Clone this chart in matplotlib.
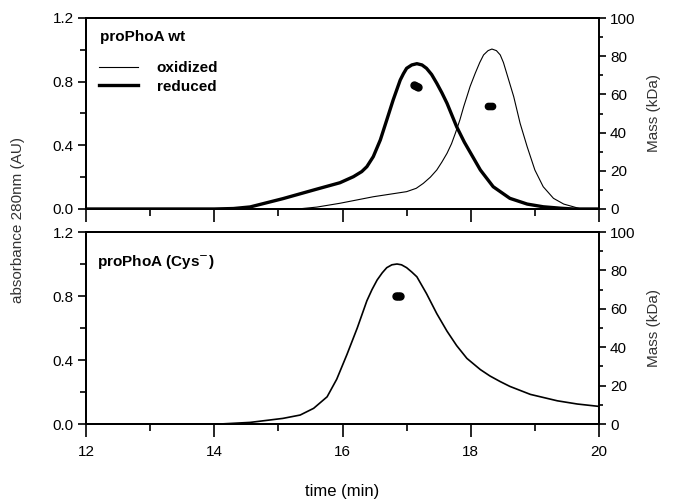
import matplotlib
matplotlib.use("Agg")
import matplotlib.pyplot as plt
from matplotlib.ticker import MultipleLocator

plt.rcParams['font.family'] = ['Liberation Sans', 'DejaVu Sans']
plt.rcParams['font.size'] = 11

# proPhoA wt, oxidized (thin line)
t_ox = [12.0, 15.3, 15.6, 15.96, 16.48, 17.0, 17.15, 17.26, 17.37, 17.47, 17.55,
        17.63, 17.7, 17.76, 17.83, 17.89, 17.94, 17.99, 18.07, 18.14, 18.2,
        18.27, 18.33, 18.4, 18.46, 18.51, 18.56, 18.67, 18.77, 18.88, 19.0,
        19.13, 19.29, 19.45, 19.6, 19.72, 20.0]
a_ox = [0.0, 0.0, 0.012, 0.036, 0.077, 0.109, 0.13, 0.161, 0.2, 0.245, 0.295,
        0.35, 0.41, 0.476, 0.559, 0.643, 0.706, 0.77, 0.853, 0.92, 0.968,
        0.995, 1.005, 0.995, 0.968, 0.92, 0.853, 0.706, 0.538, 0.391, 0.245,
        0.14, 0.067, 0.031, 0.014, 0.0, 0.0]

# proPhoA wt, reduced (thick line)
t_red = [12.0, 14.0, 14.3, 14.56, 15.07, 15.6, 15.96, 16.17, 16.3, 16.38, 16.48,
         16.59, 16.69, 16.79, 16.9, 16.95, 17.0, 17.08, 17.16, 17.24, 17.31,
         17.39, 17.47, 17.55, 17.63, 17.78, 17.9, 18.0, 18.15, 18.35, 18.61,
         18.88, 19.13, 19.4, 19.6, 20.0]
a_red = [0.0, 0.0, 0.003, 0.013, 0.065, 0.125, 0.165, 0.203, 0.235, 0.266, 0.329,
         0.434, 0.559, 0.685, 0.81, 0.85, 0.884, 0.905, 0.913, 0.905, 0.884,
         0.845, 0.79, 0.73, 0.664, 0.517, 0.42, 0.35, 0.245, 0.14, 0.067,
         0.031, 0.014, 0.005, 0.0, 0.0]

# proPhoA (Cys-)
t_cys = [12.0, 14.09, 14.56, 15.07, 15.34, 15.55, 15.76, 15.91, 16.07, 16.23,
         16.38, 16.46, 16.54, 16.62, 16.69, 16.77, 16.85, 16.92, 17.0, 17.08,
         17.16, 17.31, 17.47, 17.63, 17.78, 17.94, 18.15, 18.3, 18.46, 18.61,
         18.93, 19.35, 19.66, 20.0]
a_cys = [0.0, 0.0, 0.01, 0.035, 0.056, 0.098, 0.17, 0.28, 0.435, 0.6,
         0.77, 0.84, 0.9, 0.945, 0.977, 0.995, 1.0, 0.995, 0.977, 0.95,
         0.92, 0.815, 0.69, 0.58, 0.49, 0.41, 0.34, 0.30, 0.265, 0.235,
         0.185, 0.145, 0.125, 0.11]

# mass estimates (kDa)
mt_red = [17.12, 17.15, 17.18]
m_red = [64.8, 64.4, 64.0]
mt_ox = [18.27, 18.30, 18.33]
m_ox = [54.0, 54.0, 54.0]
mt_cys = [16.84, 16.87, 16.9]
m_cys = [66.9, 66.7, 66.5]

W, H = 674, 501
fig = plt.figure(figsize=(W / 100, H / 100), dpi=100)

left = 86 / W
width = (599 - 86) / W
ax1 = fig.add_axes([left, 1 - 209 / H, width, (209 - 18) / H])
ax2 = fig.add_axes([left, 1 - 424 / H, width, (424 - 232) / H])


def style(ax, show_xlabels):
    ax.set_xlim(12, 20)
    ax.set_ylim(0, 1.2)
    ax.xaxis.set_major_locator(MultipleLocator(2))
    ax.xaxis.set_minor_locator(MultipleLocator(1))
    ax.yaxis.set_major_locator(MultipleLocator(0.4))
    ax.yaxis.set_minor_locator(MultipleLocator(0.2))
    ax.yaxis.set_major_formatter(plt.FuncFormatter(lambda v, p: f"{v:.1f}"))
    ax.tick_params(axis='x', which='major', direction='out', length=9, width=1.2,
                   labelbottom=show_xlabels, pad=6)
    ax.tick_params(axis='x', which='minor', direction='out', length=5, width=1.2)
    ax.tick_params(axis='y', which='major', direction='out', length=6, width=1.2, pad=3)
    ax.tick_params(axis='y', which='minor', direction='out', length=4, width=1.2)
    for s in ax.spines.values():
        s.set_linewidth(1.4)
    ax.spines['right'].set_visible(False)
    axr = ax.twinx()
    axr.set_ylim(0, 100)
    axr.yaxis.set_major_locator(MultipleLocator(20))
    axr.yaxis.set_minor_locator(MultipleLocator(10))
    axr.tick_params(axis='y', which='major', direction='out', length=5, width=1.2, pad=3)
    axr.tick_params(axis='y', which='minor', direction='out', length=3, width=1.2)
    for s in axr.spines.values():
        s.set_linewidth(1.4)
    axr.set_ylabel("Mass (kDa)", labelpad=8, color='#333333')
    return axr


ax1r = style(ax1, False)
ax2r = style(ax2, True)

ax1.plot(t_ox, a_ox, color='black', lw=0.8, label='oxidized')
ax1.plot(t_red, a_red, color='black', lw=2.4, label='reduced')
ax1r.plot(mt_red, m_red, 'o', color='black', ms=5, mec='black')
ax1r.plot(mt_ox, m_ox, 'o', color='black', ms=4.5, mec='black')
ax1.text(0.027, 0.90, "proPhoA wt", transform=ax1.transAxes, fontweight='bold',
         va='center', ha='left')
ax1.legend(loc='upper left', bbox_to_anchor=(0.01, 0.815), frameon=False,
           handlelength=2.6, handletextpad=1.2, labelspacing=0.3, borderpad=0,
           prop={'weight': 'bold', 'size': 11})

ax2.plot(t_cys, a_cys, color='black', lw=1.2)
ax2r.plot(mt_cys, m_cys, 'o', color='black', ms=5, mec='black')
ax2.text(0.021, 0.844, "proPhoA (Cys$^{-}$)", transform=ax2.transAxes,
         fontweight='bold', va='center', ha='left')
ax2.set_xlabel("time (min)", fontsize=12, labelpad=18)

fig.text(18 / W, 1 - 220 / H, "absorbance 280nm (AU)", rotation=90,
         ha='center', va='center', fontsize=11, color='#333333')

fig.savefig("out.png", dpi=100)
